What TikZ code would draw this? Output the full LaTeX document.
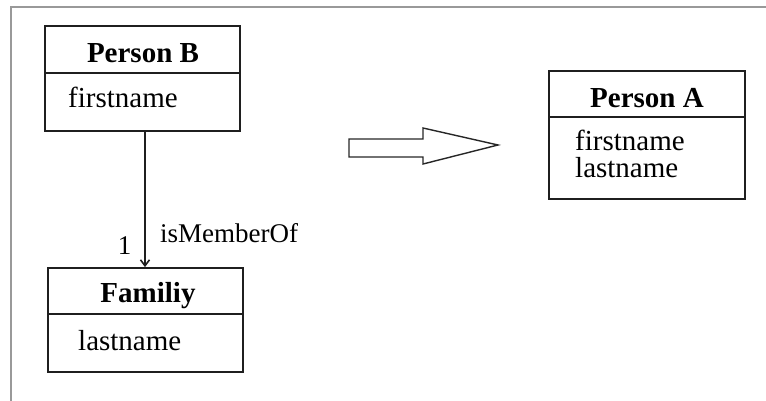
\documentclass[tikz,border=0pt]{standalone}
\usepackage{fontspec}
\setmainfont{Liberation Serif}
\usetikzlibrary{arrows.meta}
\begin{document}
\begin{tikzpicture}[x=1pt,y=-1pt,
  box/.style={draw=black!88,line width=1.8pt,minimum width=195pt,inner sep=0pt},
  ttl/.style={font=\fontsize{29}{32}\selectfont\bfseries,anchor=base,inner sep=0pt},
  attr/.style={font=\fontsize{29}{32}\selectfont,anchor=base west,inner sep=0pt},
  lbl/.style={font=\fontsize{27}{30}\selectfont,inner sep=0pt},
  frame/.style={draw=black!40,line width=1.4pt}]
\useasboundingbox (0,0) rectangle (766,401);
\draw[frame] (11,401) -- (11,7) -- (766,7);
% Person B
\node[box,minimum height=47pt] (pbT) at (142.5,49.5) {};
\node[box,minimum height=58pt] (pbA) at (142.5,102) {};
\node[ttl] (pbTt) at (143,63) {Person B};
\node[attr] (pbF) at (68,108) {firstname};
% Familiy
\node[box,minimum height=46pt] (fmT) at (145.5,291) {};
\node[box,minimum height=58pt] (fmA) at (145.5,343) {};
\node[ttl] (fmTt) at (148,302) {Familiy};
\node[attr] (fmL) at (78,350) {lastname};
% Person A
\node[box,minimum height=46pt,minimum width=196pt] (paT) at (647,94) {};
\node[box,minimum height=82pt,minimum width=196pt] (paA) at (647,158) {};
\node[ttl] (paTt) at (647,108) {Person A};
\node[attr] (paF) at (575,150) {firstname};
\node[attr] (paL) at (575,178) {lastname};
% association
\draw[line width=1.6pt,black!88,-{Straight Barb[length=6pt,width=9pt]}] ([xshift=2.5pt]pbA.south) -- ([xshift=2.5pt]pbA.south |- fmT.north);
\node[lbl,anchor=base] (one) at (124.5,254) {1};
\node[lbl,anchor=base west] (mem) at (160,242) {isMemberOf};
% block arrow
\draw[line width=1.4pt,black!85,line join=miter]
  (349,139) -- (423,139) -- (423,128) -- (498,145) -- (423,164) -- (423,157) -- (349,157) -- cycle;
\end{tikzpicture}
\end{document}
